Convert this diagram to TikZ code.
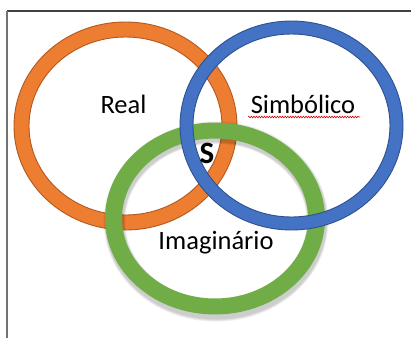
\documentclass[tikz,border=0pt]{standalone}
\usepackage{fontspec}
\setmainfont{Carlito}
\usetikzlibrary{decorations.pathmorphing}

\definecolor{realfill}{HTML}{ED7D31}
\definecolor{realline}{HTML}{B3591F}
\definecolor{simbfill}{HTML}{4472C4}
\definecolor{simbline}{HTML}{2F528F}
\definecolor{imagfill}{HTML}{70AD47}

\tikzset{
  ringlabel/.style={anchor=base, inner sep=0pt, font=\fontsize{26.5bp}{31bp}\selectfont},
  ring/.style={even odd rule, line width=0.9bp},
}

\begin{document}
\begin{tikzpicture}[x=1bp, y=-1bp]
  \useasboundingbox (0,0) rectangle (411,338);
  \fill[white] (0,0) rectangle (411,338);

  % frame
  \draw[black!75, line width=1.2bp] (7,11) -- (411,11);
  \draw[black!55, line width=2bp] (7,11) -- (7,338);

  % Real
  \fill[ring, realfill, draw=realline] (125.5,126) ellipse (111.5 and 104) (125.5,126) ellipse (96.5 and 89);

  % shadow of Imaginario
  \foreach \k in {1,...,4}
    \fill[even odd rule, black, opacity=0.05] (216,221.5) ellipse (110+\k*0.6 and 97+\k*0.8) (216,221.5) ellipse (93-\k*0.6 and 80-\k*0.6);
  % Imaginario
  \fill[ring, imagfill] (215,218.5) ellipse (110 and 96) (215,218.5) ellipse (93 and 80);

  % Simbolico
  \fill[ring, simbfill, draw=simbline] (291.5,125.5) ellipse (111.5 and 104.5) (291.5,125.5) ellipse (98.5 and 91.5);

  % labels
  \node[ringlabel] (real) at (123.5,113) {Real};
  \node[ringlabel] (simb) at (303,113) {Simbólico};
  \node[ringlabel] (imag) at (216,249) {Imaginário};
  \node[anchor=base, inner sep=0pt, font=\fontsize{31bp}{36bp}\selectfont\bfseries] (sujeito) at (207,163) {S};

  \draw[red!85!black, line width=0.6bp, decorate, decoration={snake, amplitude=0.8bp, segment length=2.6bp}]
    (248,117) -- (360,117);
\end{tikzpicture}
\end{document}
